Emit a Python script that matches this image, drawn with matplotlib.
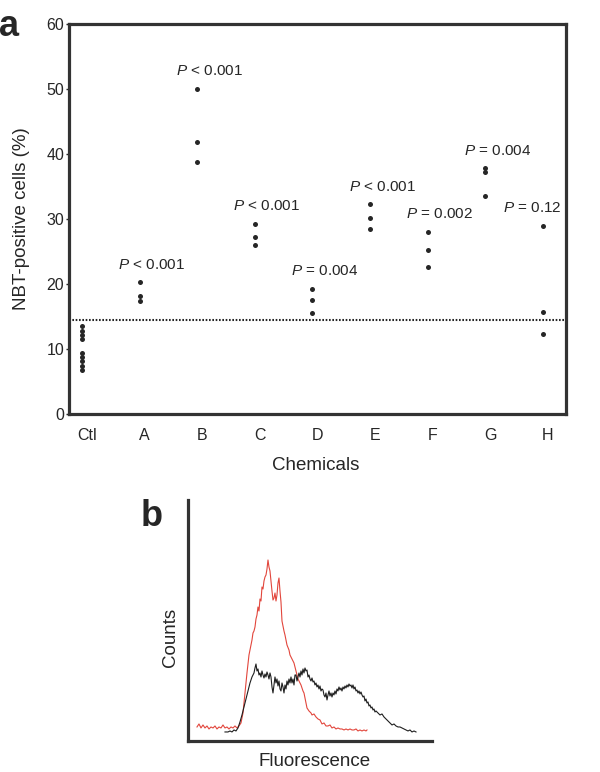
import matplotlib
matplotlib.use("Agg")
import matplotlib.pyplot as plt
import matplotlib.transforms as mtransforms
import numpy as np

plt.rcParams['font.family'] = ['Liberation Sans', 'DejaVu Sans']
plt.rcParams['mathtext.fontset'] = 'custom'
plt.rcParams['mathtext.rm'] = 'Liberation Sans'
plt.rcParams['mathtext.it'] = 'Liberation Sans:italic'

# panel a : NBT-positive cells (%) per chemical
groups = ['Ctl', 'A', 'B', 'C', 'D', 'E', 'F', 'G', 'H']
ctl = [13.5, 12.8, 12.2, 11.6, 9.4, 8.8, 8.1, 7.4, 6.8]
chem_a = [20.3, 18.1, 17.4]
chem_b = [50.0, 41.8, 38.8]
chem_c = [29.3, 27.2, 26.0]
chem_d = [19.3, 17.5, 15.6]
chem_e = [32.3, 30.2, 28.5]
chem_f = [28.0, 25.2, 22.6]
chem_g = [37.8, 37.2, 33.5]
chem_h = [29.0, 15.7, 12.3]
pvals = ['< 0.001', '< 0.001', '< 0.001', '= 0.004', '< 0.001', '= 0.002', '= 0.004', '= 0.12']
threshold = 14.4

# panel b : flow cytometry histograms (channel, counts)
red_ch = [9, 11, 13, 15, 17, 19, 21, 23, 25, 27, 29, 31, 33, 35, 37, 39, 41, 43, 45, 47, 49, 51,
          53, 55, 57, 59, 61, 63, 64, 65, 66, 67, 68, 69, 70, 71, 72, 73, 74, 75, 76, 77, 78, 79,
          80, 81, 82, 83, 84, 85, 86, 87, 88, 89, 90, 91, 92, 93, 94, 96, 97, 99, 101, 102, 104,
          106, 107, 109, 110, 112, 113, 115, 116, 118, 119, 121, 123, 124, 126, 128, 130, 132,
          134, 136, 138, 140, 142, 144, 146, 148, 150, 152, 154, 156, 158, 160, 162, 164, 166,
          168, 170, 172, 174, 176, 178, 179]
red_counts = [14, 17, 13, 16, 13, 15, 12, 14, 13, 15, 12, 14, 13, 16, 13, 14, 12, 14, 13, 15, 13, 15,
              18, 28, 48, 68, 86, 96, 101, 108, 110, 114, 122, 126, 134, 130, 142, 140, 154, 152,
              160, 164, 166, 172, 181, 174, 170, 160, 150, 141, 143, 148, 140, 146, 158, 163, 150,
              139, 120, 110, 106, 96, 91, 86, 82, 78, 74, 66, 62, 58, 56, 50, 48, 38, 33, 30, 28,
              26, 27, 24, 22, 21, 17, 18, 15, 15, 16, 13, 14, 12, 13, 12, 12, 11, 12, 11, 12, 11,
              11, 12, 10, 11, 10, 11, 10, 11]

black_ch = [37, 40, 42, 44, 46, 48, 50, 52, 54, 56, 58, 60, 62, 64, 66, 67, 68, 69, 70, 71, 72, 73,
            74, 75, 76, 77, 78, 79, 80, 81, 82, 83, 84, 85, 86, 87, 88, 89, 90, 91, 92, 93, 94, 95,
            96, 97, 98, 99, 100, 101, 102, 103, 104, 105, 106, 107, 108, 109, 110, 111, 112, 113,
            114, 115, 116, 117, 118, 119, 120, 121, 122, 123, 124, 125, 126, 127, 128, 129, 130,
            131, 132, 133, 134, 135, 136, 137, 138, 139, 140, 141, 142, 143, 144, 145, 146, 147,
            148, 149, 150, 151, 152, 153, 154, 155, 156, 157, 158, 159, 160, 161, 162, 163, 164,
            165, 166, 167, 168, 169, 170, 171, 172, 173, 174, 175, 176, 177, 178, 179, 180, 181,
            182, 183, 184, 185, 186, 187, 188, 190, 192, 194, 196, 198, 200, 202, 204, 206, 208,
            210, 212, 214, 216, 218, 220, 222, 224, 226, 228]
black_counts = [9, 9, 10, 9, 11, 10, 13, 19, 26, 34, 42, 50, 58, 64, 68, 73, 77, 70, 72, 66, 68, 64,
                70, 66, 63, 67, 64, 69, 66, 62, 68, 64, 54, 48, 56, 64, 58, 62, 55, 60, 52, 50, 58,
                54, 48, 56, 52, 60, 56, 62, 58, 64, 58, 62, 56, 66, 66, 60, 64, 68, 64, 70, 66, 72,
                68, 73, 70, 71, 64, 66, 62, 60, 63, 59, 60, 56, 58, 54, 56, 52, 55, 50, 52, 51, 46,
                44, 48, 41, 46, 50, 45, 48, 44, 48, 46, 50, 47, 52, 50, 54, 51, 53, 50, 54, 52, 55,
                53, 56, 54, 57, 55, 56, 53, 56, 52, 54, 50, 51, 48, 50, 47, 49, 46, 44, 45, 40, 42,
                38, 39, 35, 36, 33, 34, 31, 32, 29, 30, 28, 26, 27, 24, 22, 20, 18, 16, 17, 15, 14,
                14, 13, 12, 11, 10, 11, 9, 10, 9]

ink = '#262626'
fig = plt.figure(figsize=(6.0, 7.72), dpi=100)

# ---- panel a
ax = fig.add_axes([0.115, 0.4637, 0.828, 0.5052])
series = [ctl, chem_a, chem_b, chem_c, chem_d, chem_e, chem_f, chem_g, chem_h]
for i, vals in enumerate(series):
    ax.plot([i] * len(vals), vals, 'o', color=ink, ms=3.6, mec='none')
ax.axhline(threshold, color=ink, lw=1.5, dashes=(0.8, 0.8))

for i, (vals, p) in enumerate(zip(series[1:], pvals), start=1):
    txt = r'$\mathit{P}$ ' + p
    if i == len(groups) - 1:
        ax.text(i + 0.33, max(vals) + 2.7, txt, ha='right', va='center', fontsize=11, color=ink)
    else:
        ax.text(i - 0.37, max(vals) + 2.7, txt, ha='left', va='center', fontsize=11, color=ink)

ax.set_xlim(-0.226, 8.4)
ax.set_ylim(0, 60)
ax.set_yticks([0, 10, 20, 30, 40, 50, 60])
ax.set_xticks(range(len(groups)))
ax.set_xticklabels(groups)
ax.tick_params(axis='y', length=2, width=1, pad=1.5, labelsize=11.5, colors=ink)
ax.tick_params(axis='x', length=0, pad=10, labelsize=11.5, colors=ink)
shift = mtransforms.ScaledTranslation(5 / 100, 0, fig.dpi_scale_trans)
for lab in ax.get_xticklabels():
    lab.set_transform(lab.get_transform() + shift)
for s in ax.spines.values():
    s.set_linewidth(2.3)
    s.set_color('#333333')

fig.text(22 / 600, 1 - 219 / 772, 'NBT-positive cells (%)', rotation=90,
         ha='center', va='center', fontsize=13.5, color=ink)
fig.text(316 / 600, 1 - 466 / 772, 'Chemicals', ha='center', va='center', fontsize=13.5, color=ink)
fig.text(9 / 600, 1 - 27 / 772, 'a', ha='center', va='center', fontsize=26,
         fontweight='bold', color=ink)

# ---- panel b
bx = fig.add_axes([0.3133, 0.0402, 0.4067, 0.3121])
bx.plot(red_ch, red_counts, color='#e2463c', lw=0.8)
bx.plot(black_ch, black_counts, color='#1e1e1e', lw=0.8)
bx.set_xlim(0, 244)
bx.set_ylim(0, 241)
bx.set_xticks([])
bx.set_yticks([])
bx.spines['top'].set_visible(False)
bx.spines['right'].set_visible(False)
for s in ('left', 'bottom'):
    bx.spines[s].set_linewidth(2.3)
    bx.spines[s].set_color('#333333')

fig.text(170 / 600, 1 - 637 / 772, 'Counts', rotation=90, ha='center', va='center',
         fontsize=13.5, color=ink)
fig.text(315 / 600, 1 - 762 / 772, 'Fluorescence', ha='center', va='center',
         fontsize=13.5, color=ink)
fig.text(152 / 600, 1 - 516 / 772, 'b', ha='center', va='center', fontsize=26,
         fontweight='bold', color=ink)

fig.savefig('out.png', dpi=100)
